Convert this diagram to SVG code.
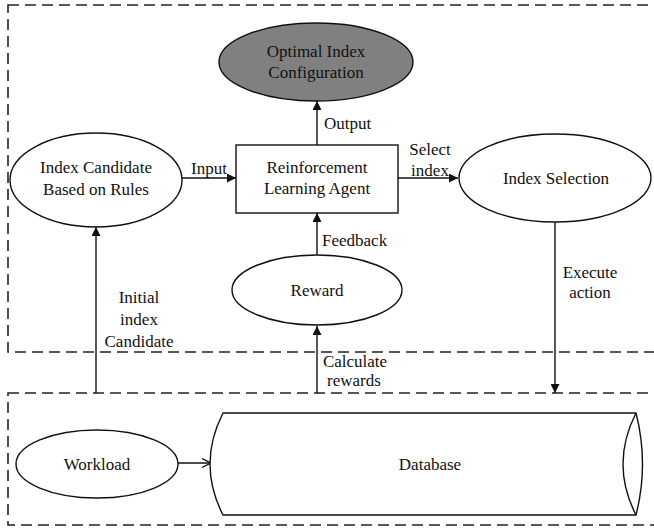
<svg xmlns="http://www.w3.org/2000/svg" width="654" height="528" viewBox="0 0 654 528">
<defs>
<style>
.t{font-family:"Liberation Serif","Times New Roman",serif;font-size:17px;fill:#111;}
.m{text-anchor:middle;}
.n{fill:#fff;stroke:#111;stroke-width:1.4;}
.c{stroke:#111;stroke-width:1.4;fill:none;}
.d{fill:none;stroke:#222;stroke-width:1.6;stroke-dasharray:11 6;}
</style>
<marker id="ah" viewBox="0 0 10 10" refX="10" refY="5" markerWidth="10" markerHeight="9" markerUnits="userSpaceOnUse" orient="auto">
<path d="M0,0 L10,5 L0,10 Z" fill="#111"/>
</marker>
<marker id="oh" viewBox="0 0 10 10" refX="10" refY="5" markerWidth="9" markerHeight="10" markerUnits="userSpaceOnUse" orient="auto">
<path d="M0,0 L10,5 L0,10" fill="none" stroke="#111" stroke-width="1.4"/>
</marker>
</defs>
<rect width="654" height="528" fill="#fff"/>
<g id="regions">
<rect class="d" x="8" y="5" width="660" height="347"/>
<rect class="d" x="8" y="393" width="660" height="132"/>
</g>
<g id="connectors">
<line class="c" x1="317" y1="145" x2="317" y2="101" marker-end="url(#ah)"/>
<line class="c" x1="182" y1="178" x2="236" y2="178" marker-end="url(#ah)"/>
<line class="c" x1="398" y1="178" x2="458" y2="178" marker-end="url(#ah)"/>
<line class="c" x1="317" y1="255" x2="317" y2="213" marker-end="url(#ah)"/>
<line class="c" x1="96" y1="393" x2="96" y2="227" marker-end="url(#ah)"/>
<line class="c" x1="317" y1="393" x2="317" y2="326" marker-end="url(#ah)"/>
<line class="c" x1="555" y1="222" x2="555" y2="393" marker-end="url(#ah)"/>
<line class="c" x1="178" y1="463" x2="211" y2="463" marker-end="url(#oh)"/>
<text class="t" x="324" y="129">Output</text>
<text class="t" x="191" y="174">Input</text>
<text class="t m" x="430" y="155">Select</text>
<text class="t m" x="430" y="176">index</text>
<text class="t" x="322" y="246">Feedback</text>
<text class="t m" x="139" y="303">Initial</text>
<text class="t m" x="139" y="325">index</text>
<text class="t m" x="139" y="347">Candidate</text>
<text class="t m" x="590" y="278">Execute</text>
<text class="t m" x="590" y="298">action</text>
<text class="t m" x="355" y="367">Calculate</text>
<text class="t m" x="354" y="386">rewards</text>
</g>
<g id="optimal">
<ellipse cx="316" cy="62" rx="97" ry="39" fill="#808080" stroke="#111" stroke-width="1.4"/>
<text class="t m" x="316" y="57">Optimal Index</text>
<text class="t m" x="316" y="78">Configuration</text>
</g>
<g id="agent">
<rect class="n" x="236" y="145" width="162" height="68"/>
<text class="t m" x="317" y="173">Reinforcement</text>
<text class="t m" x="317" y="194">Learning Agent</text>
</g>
<g id="candidate">
<ellipse class="n" cx="96" cy="180" rx="86" ry="47"/>
<text class="t m" x="96" y="173">Index Candidate</text>
<text class="t m" x="96" y="195">Based on Rules</text>
</g>
<g id="selection">
<ellipse class="n" cx="555" cy="178" rx="96" ry="44"/>
<text class="t m" x="556" y="184">Index Selection</text>
</g>
<g id="reward">
<ellipse class="n" cx="317" cy="290" rx="85" ry="35"/>
<text class="t m" x="317" y="296">Reward</text>
</g>
<g id="workload">
<ellipse class="n" cx="97" cy="464" rx="81" ry="34"/>
<text class="t m" x="97" y="470">Workload</text>
</g>
<g id="database">
<path class="n" d="M223,413 L636,413 Q649,464 636,515 L223,515 Q197,464 223,413 Z"/>
<path class="c" d="M636,413 Q610,464 636,515"/>
<text class="t m" x="430" y="470">Database</text>
</g>
</svg>
